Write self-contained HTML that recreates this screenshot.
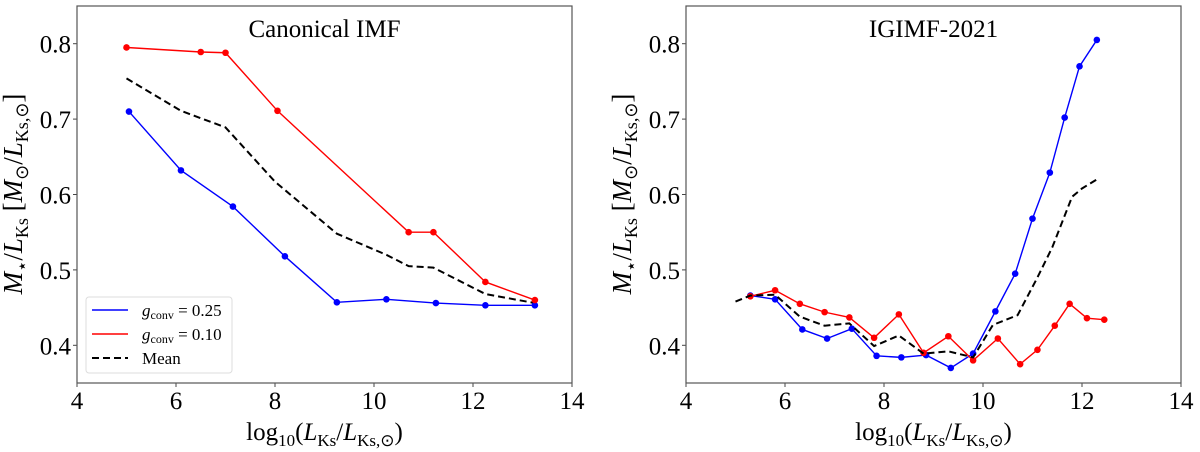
<!DOCTYPE html>
<html><head><meta charset="utf-8"><style>
body{margin:0;background:#fff;}
svg{display:block;font-family:"Liberation Serif",serif;}
</style></head><body>
<svg id="chart" width="1200" height="452"></svg>
<script>
const xTicks=[4,6,8,10,12,14];
const yTicks=[0.4,0.5,0.6,0.7,0.8];
const leftBlueX=[5.05,6.1,7.15,8.2,9.25,10.25,11.25,12.25,13.25];
const leftBlueY=[0.71,0.632,0.584,0.518,0.457,0.461,0.456,0.453,0.453];
const leftRedX=[5.0,6.5,7.0,8.05,10.7,11.2,12.25,13.25];
const leftRedY=[0.795,0.789,0.788,0.711,0.55,0.55,0.484,0.46];
const leftMeanX=[5,6.1,7,8,9.25,10.25,10.7,11.2,12.25,13.25];
const leftMeanY=[0.754,0.711,0.689,0.617,0.548,0.52,0.505,0.503,0.468,0.456];
const rightBlueX=[5.3,5.8,6.35,6.85,7.35,7.85,8.35,8.85,9.35,9.8,10.25,10.65,11.0,11.35,11.65,11.95,12.3];
const rightBlueY=[0.466,0.461,0.421,0.409,0.422,0.386,0.384,0.387,0.370,0.389,0.445,0.495,0.568,0.629,0.702,0.77,0.805];
const rightRedX=[5.3,5.8,6.3,6.8,7.3,7.8,8.3,8.8,9.3,9.8,10.3,10.75,11.1,11.45,11.75,12.1,12.45];
const rightRedY=[0.465,0.473,0.455,0.444,0.437,0.410,0.441,0.390,0.412,0.380,0.409,0.375,0.394,0.426,0.455,0.436,0.434];
const rightMeanX=[5.0,5.3,5.8,6.3,6.8,7.3,7.8,8.3,8.8,9.3,9.8,10.2,10.7,11.1,11.4,11.8,12.0,12.3];
const rightMeanY=[0.458,0.466,0.467,0.438,0.426,0.429,0.399,0.413,0.389,0.392,0.384,0.427,0.44,0.49,0.53,0.597,0.608,0.62];

const NS="http://www.w3.org/2000/svg";
const svg=document.getElementById('chart');
function mk(tag,attrs,parent,text){const e=document.createElementNS(NS,tag);for(const k in attrs)e.setAttribute(k,attrs[k]);if(text!==undefined)e.textContent=text;(parent||svg).appendChild(e);return e;}

function panel(x0,x1,title,series,name,legend){
  const y0=6,y1=383;
  const sx=v=>x0+(v-4)/10*(x1-x0);
  const sy=v=>y1-(v-0.35)/0.5*(y1-y0);
  const g=mk('g',{});
  
  
  xTicks.forEach(t=>{
    const l=mk('line',{x1:sx(t),x2:sx(t),y1:y1,y2:y1+4,stroke:'#444','stroke-width':1},g);
    
    const tx=mk('text',{x:sx(t),y:y1+26,'text-anchor':'middle','font-size':25},g,String(t));
    
  });
  yTicks.forEach(t=>{
    const l=mk('line',{x1:x0-4,x2:x0,y1:sy(t),y2:sy(t),stroke:'#444','stroke-width':1},g);
    
    const tx=mk('text',{x:x0-6,y:sy(t)+9,'text-anchor':'end','font-size':25},g,t.toFixed(1));
    
  });
  series.forEach(s=>{
    const pts=s.x.map((v,i)=>sx(v)+','+sy(s.y[i])).join(' ');
    const pl=mk('polyline',{points:pts,fill:'none',stroke:s.c,'stroke-width':s.dash?2:1.4,'stroke-dasharray':s.dash?'7,4':'none'},g);
    
    if(!s.dash) s.x.forEach((v,i)=>{
      const c=mk('circle',{cx:sx(v),cy:sy(s.y[i]),r:3.3,fill:s.c},g);
      
    });
  });
  const fr=mk('rect',{x:x0,y:y0,width:x1-x0,height:y1-y0,fill:'none',stroke:'#555','stroke-width':1.2},g);
  
  const tt=mk('text',{x:(x0+x1)/2,y:37,'text-anchor':'middle','font-size':25},g,title);
  
  const xl=mk('text',{x:(x0+x1)/2,y:440,'text-anchor':'middle','font-size':25},g);
  
  xl.innerHTML='log<tspan font-size="17" dy="6">10</tspan><tspan dy="-6">(</tspan><tspan font-style="italic">L</tspan><tspan font-size="17" dy="6">Ks</tspan><tspan dy="-6">/</tspan><tspan font-style="italic">L</tspan><tspan font-size="17" dy="6">Ks,⊙</tspan><tspan dy="-6">)</tspan>';
  const yx=x0-55;
  const yl=mk('text',{x:yx,y:194,'text-anchor':'middle','font-size':27},g);
  yl.setAttribute('transform','rotate(-90 '+yx+' 194)');
  
  yl.innerHTML='<tspan font-style="italic">M</tspan><tspan font-size="18" dy="6">⋆</tspan><tspan dy="-6">/</tspan><tspan font-style="italic">L</tspan><tspan font-size="18" dy="6">Ks</tspan><tspan dy="-6"> [</tspan><tspan font-style="italic">M</tspan><tspan font-size="18" dy="6">⊙</tspan><tspan dy="-6">/</tspan><tspan font-style="italic">L</tspan><tspan font-size="18" dy="6">Ks,⊙</tspan><tspan dy="-6">]</tspan>';
  if(legend){
    const lg=mk('g',{},g);
    
    mk('rect',{x:86,y:297,width:146,height:76,rx:3,fill:'#fff',stroke:'#ddd','stroke-width':1},lg);
    const items=[['blue',false,'g','conv = 0.25','legend-entry-g025'],['red',false,'g','conv = 0.10','legend-entry-g010'],['black',true,'','Mean','legend-entry-mean']];
    items.forEach((it,i)=>{
      const yy=310+i*24;
      const e=mk('g',{},lg);
      
      mk('line',{x1:92,x2:128,y1:yy,y2:yy,stroke:it[0],'stroke-width':it[1]?2:1.4,'stroke-dasharray':it[1]?'7,4':'none'},e);
      const t=mk('text',{x:142,y:yy+6,'font-size':17},e);
      if(it[2]) t.innerHTML='<tspan font-style="italic">g</tspan><tspan font-size="12" dy="3">conv</tspan><tspan dy="-3"> = '+it[3].split('= ')[1]+'</tspan>';
      else t.textContent=it[3];
    });
  }
}
panel(77,572,'Canonical IMF',[
  {x:leftMeanX,y:leftMeanY,c:'black',dash:true,n:'mean-line'},
  {x:leftBlueX,y:leftBlueY,c:'blue',n:'g025-line'},
  {x:leftRedX,y:leftRedY,c:'red',n:'g010-line'}],'left-panel',true);
panel(686,1181,'IGIMF-2021',[
  {x:rightBlueX,y:rightBlueY,c:'blue',n:'g025-line'},
  {x:rightRedX,y:rightRedY,c:'red',n:'g010-line'},
  {x:rightMeanX,y:rightMeanY,c:'black',dash:true,n:'mean-line'}],'right-panel',false);
</script>
</body></html>
